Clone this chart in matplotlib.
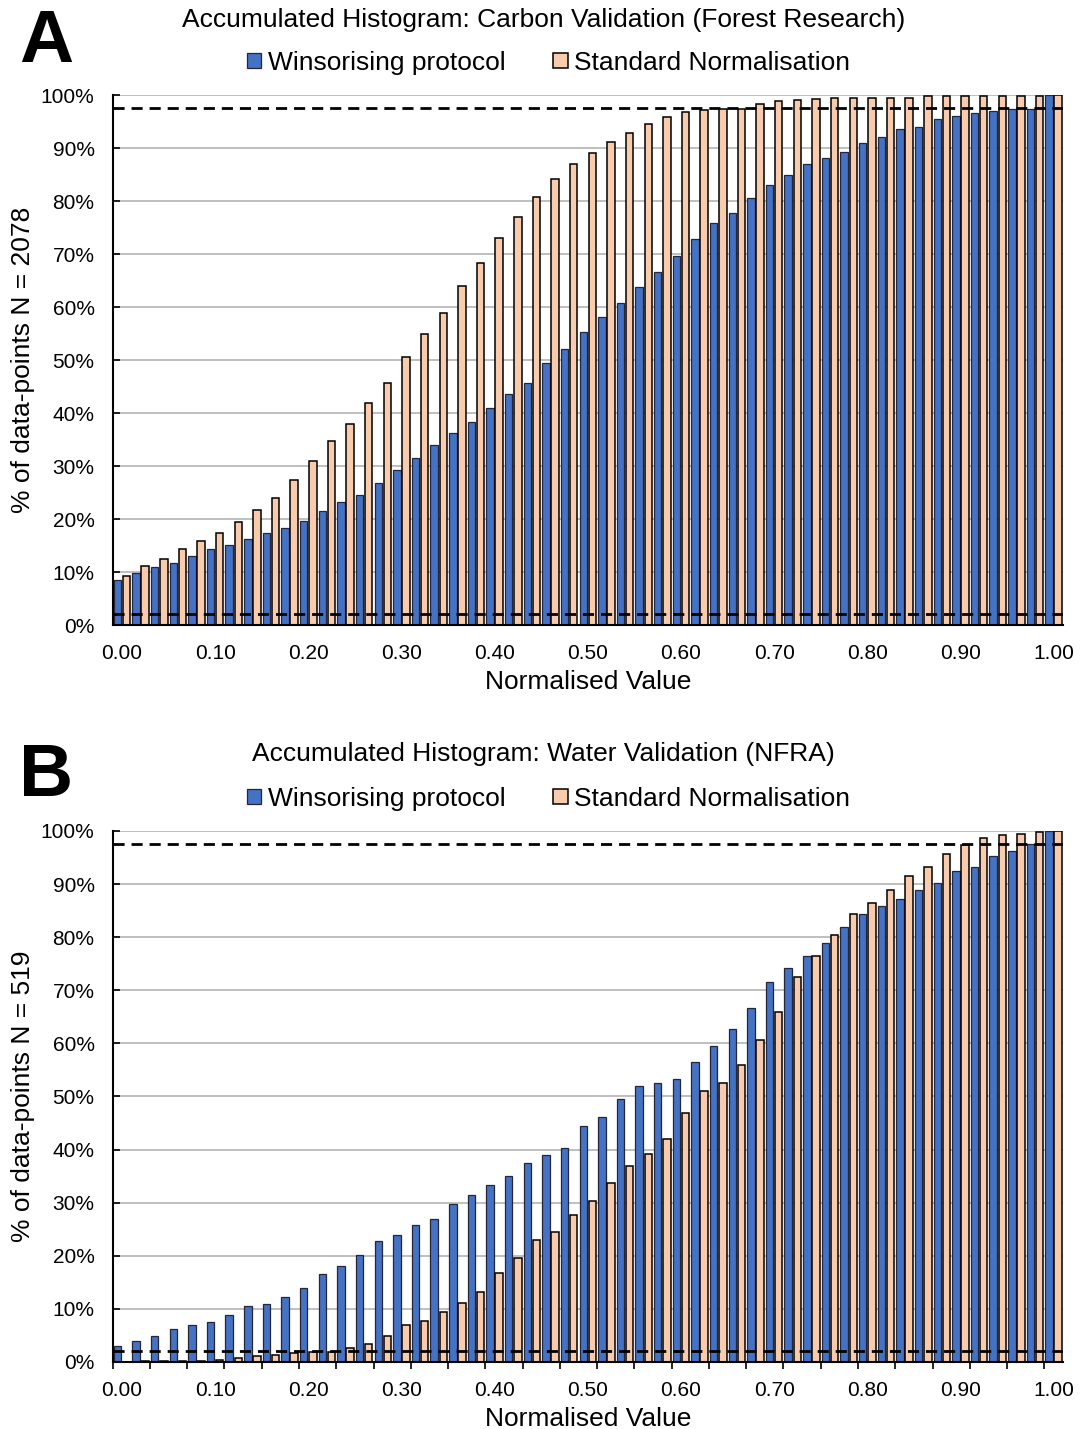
import numpy as np
import matplotlib
matplotlib.use('Agg')
from matplotlib import pyplot as plt
from matplotlib.ticker import FixedLocator

plt.rcParams['font.family'] = ['Liberation Sans', 'DejaVu Sans']

# 分箱标签 0.00 ... 1.00（步长0.02）
bins = ['0.00', '0.02', '0.04', '0.06', '0.08', '0.10', '0.12', '0.14', '0.16', '0.18',
        '0.20', '0.22', '0.24', '0.26', '0.28', '0.30', '0.32', '0.34', '0.36', '0.38',
        '0.40', '0.42', '0.44', '0.46', '0.48', '0.50', '0.52', '0.54', '0.56', '0.58',
        '0.60', '0.62', '0.64', '0.66', '0.68', '0.70', '0.72', '0.74', '0.76', '0.78',
        '0.80', '0.82', '0.84', '0.86', '0.88', '0.90', '0.92', '0.94', '0.96', '0.98',
        '1.00']
tick_labels = ['0.00', '0.10', '0.20', '0.30', '0.40', '0.50', '0.60', '0.70', '0.80', '0.90', '1.00']

# A: Carbon Validation (Forest Research)
carbon_wins = [8.5, 9.9, 11.0, 11.8, 13.0, 14.3, 15.1, 16.3, 17.3, 18.3,
               19.6, 21.5, 23.2, 24.5, 26.8, 29.3, 31.6, 34.0, 36.3, 38.3,
               40.9, 43.5, 45.7, 49.4, 52.1, 55.3, 58.1, 60.8, 63.8, 66.7,
               69.7, 72.8, 75.8, 77.7, 80.6, 83.1, 84.9, 87.0, 88.2, 89.2,
               90.9, 92.0, 93.5, 94.0, 95.4, 96.0, 96.6, 97.0, 97.3, 97.4,
               100.0]
carbon_std = [9.3, 11.2, 12.4, 14.3, 15.8, 17.3, 19.4, 21.8, 23.9, 27.4,
              30.9, 34.7, 37.9, 41.9, 45.7, 50.6, 54.9, 58.9, 63.9, 68.4,
              73.0, 76.9, 80.8, 84.2, 87.0, 89.0, 91.1, 92.9, 94.5, 95.9,
              96.8, 97.1, 97.4, 97.4, 98.3, 98.9, 99.0, 99.3, 99.5, 99.5,
              99.5, 99.5, 99.5, 99.8, 99.8, 99.8, 99.8, 99.8, 99.9, 99.9,
              100.0]

# B: Water Validation (NFRA)
water_wins = [3.1, 4.0, 4.8, 6.2, 7.0, 7.5, 8.9, 10.6, 11.0, 12.2,
              14.0, 16.6, 18.0, 20.1, 22.8, 23.9, 25.8, 27.0, 29.7, 31.5,
              33.3, 35.0, 37.4, 38.9, 40.3, 44.4, 46.1, 49.5, 51.9, 52.6,
              53.3, 56.4, 59.5, 62.8, 66.7, 71.6, 74.1, 76.5, 78.9, 82.0,
              84.4, 85.8, 87.2, 88.8, 90.2, 92.4, 93.3, 95.2, 96.2, 97.6,
              100.0]
water_std = [0.0, 0.1, 0.1, 0.1, 0.2, 0.3, 0.8, 1.1, 1.3, 1.6,
             1.8, 1.8, 2.6, 3.4, 4.8, 7.0, 7.7, 9.5, 11.2, 13.1,
             16.8, 19.5, 22.9, 24.4, 27.7, 30.4, 33.7, 37.0, 39.1, 42.0,
             46.8, 51.0, 52.6, 56.0, 60.7, 65.9, 72.5, 76.4, 80.5, 84.3,
             86.4, 88.8, 91.6, 93.3, 95.7, 97.4, 98.7, 99.2, 99.5, 99.8,
             99.9]

lower_cut, upper_cut = 2.0, 97.5

blue = '#4472C4'
peach = '#F8CBAD'

fig = plt.figure(figsize=(10.83, 14.29), dpi=100)


def panel(rect, wins, std, title, ylab, letter, title_y, leg_y, letter_y, minor_ticks):
    ax = fig.add_axes(rect)
    x = np.arange(len(bins))
    ax.bar(x - 0.245, wins, width=0.4, color=blue, edgecolor='#26263a', linewidth=0.9,
           label='Winsorising protocol', zorder=3)
    ax.bar(x + 0.245, std, width=0.4, color=peach, edgecolor='black', linewidth=1.1,
           label='Standard Normalisation', zorder=3)
    ax.axhline(upper_cut, color='black', ls=(0, (4, 2.5)), lw=2, zorder=4)
    ax.axhline(lower_cut, color='black', ls=(0, (4, 2.5)), lw=2, zorder=4)

    ax.set_xlim(-0.5, len(bins) - 0.5)
    ax.set_ylim(0, 100)
    ax.set_yticks(range(0, 101, 10))
    ax.set_yticklabels(['%d%%' % v for v in range(0, 101, 10)])
    ax.set_xticks([bins.index(t) for t in tick_labels])
    ax.set_xticklabels(tick_labels)
    ax.tick_params(axis='x', length=0, pad=14, labelsize=15)
    ax.tick_params(axis='y', direction='in', length=5, width=1.2, pad=13, labelsize=15)
    if minor_ticks:
        ax.xaxis.set_minor_locator(FixedLocator(np.arange(-0.5, len(bins) - 1, 2)))
        ax.tick_params(axis='x', which='minor', direction='out', length=5, width=1.2)
    ax.grid(axis='y', color='#bfbfbf', lw=1.4, zorder=0)
    ax.set_axisbelow(True)
    for s in ['top', 'right']:
        ax.spines[s].set_visible(False)
    for s in ['left', 'bottom']:
        ax.spines[s].set_linewidth(1.5)
        ax.spines[s].set_zorder(5)

    ax.set_xlabel('Normalised Value', fontsize=19, labelpad=5)
    ax.set_ylabel(ylab, fontsize=19, labelpad=4)

    fig.text(0.502, title_y, title, fontsize=19, ha='center', va='center')
    fig.text(0.0425, letter_y, letter, fontsize=54, fontweight='bold', ha='center', va='center')
    ax.legend(loc='center', bbox_to_anchor=(0.5065, leg_y), bbox_transform=fig.transFigure,
              ncol=2, frameon=False, fontsize=19, handlelength=0.55, handleheight=0.55,
              handletextpad=0.25, columnspacing=1.8)
    return ax


panel([0.104, 0.5626, 0.8775, 0.3709], carbon_wins, carbon_std,
      'Accumulated Histogram: Carbon Validation (Forest Research)',
      '% of data-points N = 2078', 'A', 0.9862, 0.9560, 0.9706, False)
panel([0.104, 0.0469, 0.8775, 0.3716], water_wins, water_std,
      'Accumulated Histogram: Water Validation (NFRA)',
      '% of data-points N = 519', 'B', 0.4722, 0.4410, 0.4563, True)

fig.savefig('out.png', dpi=100)
